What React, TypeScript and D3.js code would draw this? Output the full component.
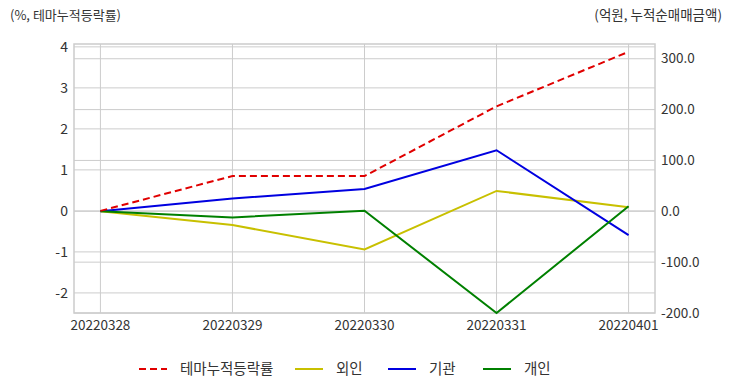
import React from 'react';
import * as d3 from 'd3';

// dates on the x axis
const dates: string[] = ['20220328', '20220329', '20220330', '20220331', '20220401'];

// left axis: theme cumulative change (%)
const themeRate: number[] = [0, 0.85, 0.85, 2.55, 3.88];

// right axis: cumulative net buying (억원)
const foreign: number[] = [0, -27, -75, 40, 8];
const institution: number[] = [0, 25, 44, 120, -47];
const retail: number[] = [0, -12, 1, -200, 10];

const leftTicks: number[] = [-2, -1, 0, 1, 2, 3, 4];
const rightTicks: number[] = [-200, -100, 0, 100, 200, 300];

const W = 732;
const H = 392;
const plot = { left: 74, right: 655, top: 44, bottom: 313 };
const font = "'Noto Sans CJK KR', 'Noto Sans', sans-serif";
const gridColor = '#cccccc';
const textColor = '#333333';

function App() {
  const x = d3.scalePoint<string>()
    .domain(dates)
    .range([plot.left, plot.right])
    .padding(0.2);

  const yL = d3.scaleLinear().domain([-2.49, 4.07]).range([plot.bottom, plot.top]);
  const yR = d3.scaleLinear().domain([-200, 329]).range([plot.bottom, plot.top]);

  const lineL = d3.line<number>()
    .x((_, i) => x(dates[i]) as number)
    .y(d => yL(d));
  const lineR = d3.line<number>()
    .x((_, i) => x(dates[i]) as number)
    .y(d => yR(d));

  const series = [
    { name: '외인', values: foreign, color: '#c8c000' },
    { name: '기관', values: institution, color: '#0000e0' },
    { name: '개인', values: retail, color: '#008000' },
  ];

  const legend = [
    { name: '테마누적등락률', color: '#e00000', dash: '7,4', x: 139 },
    { name: '외인', color: '#c8c000', dash: undefined, x: 295 },
    { name: '기관', color: '#0000e0', dash: undefined, x: 388 },
    { name: '개인', color: '#008000', dash: undefined, x: 483 },
  ];

  return (
    <svg width={W} height={H} style={{ position: 'absolute', left: 0, top: 0, background: '#fff' }} fontFamily={font}>
      {/* axis titles */}
      <text x={10} y={20} fontSize={13} fill={textColor}>(%, 테마누적등락률)</text>
      <text x={722} y={20} fontSize={13.5} fill={textColor} textAnchor="end">(억원, 누적순매매금액)</text>

      {/* grid */}
      {dates.map(d => (
        <line key={d} x1={x(d)} x2={x(d)} y1={plot.top} y2={plot.bottom} stroke={gridColor} strokeWidth={1} />
      ))}
      {leftTicks.map(t => (
        <line key={'l' + t} x1={plot.left} x2={plot.right} y1={yL(t)} y2={yL(t)} stroke={gridColor} strokeWidth={1} />
      ))}
      {rightTicks.map(t => (
        <line key={'r' + t} x1={plot.left} x2={plot.right} y1={yR(t)} y2={yR(t)} stroke={gridColor} strokeWidth={1} />
      ))}
      <rect x={plot.left} y={plot.top} width={plot.right - plot.left} height={plot.bottom - plot.top}
        fill="none" stroke={gridColor} strokeWidth={1.5} />

      {/* tick labels */}
      {leftTicks.map(t => (
        <text key={'lt' + t} x={plot.left - 6} y={yL(t)} dy="0.35em" textAnchor="end" fontSize={14} fill={textColor}>{t}</text>
      ))}
      {rightTicks.map(t => (
        <text key={'rt' + t} x={plot.right + 6} y={yR(t)} dy="0.35em" fontSize={13.5} fill={textColor}>{t.toFixed(1)}</text>
      ))}
      {dates.map(d => (
        <text key={'xt' + d} x={x(d)} y={plot.bottom + 17} textAnchor="middle" fontSize={13.5} fill={textColor}>{d}</text>
      ))}

      {/* right axis lines */}
      {series.map(s => (
        <path key={s.name} d={lineR(s.values) as string} fill="none" stroke={s.color} strokeWidth={2} />
      ))}
      {/* left axis line */}
      <path d={lineL(themeRate) as string} fill="none" stroke="#e00000" strokeWidth={2} strokeDasharray="7,4" />

      {/* legend */}
      {legend.map(l => (
        <g key={l.name}>
          <line x1={l.x} x2={l.x + 28} y1={369} y2={369} stroke={l.color} strokeWidth={2} strokeDasharray={l.dash} />
          <text x={l.x + 41} y={369} dy="0.35em" fontSize={14.5} fill={textColor}>{l.name}</text>
        </g>
      ))}
    </svg>
  );
}

export default App;
